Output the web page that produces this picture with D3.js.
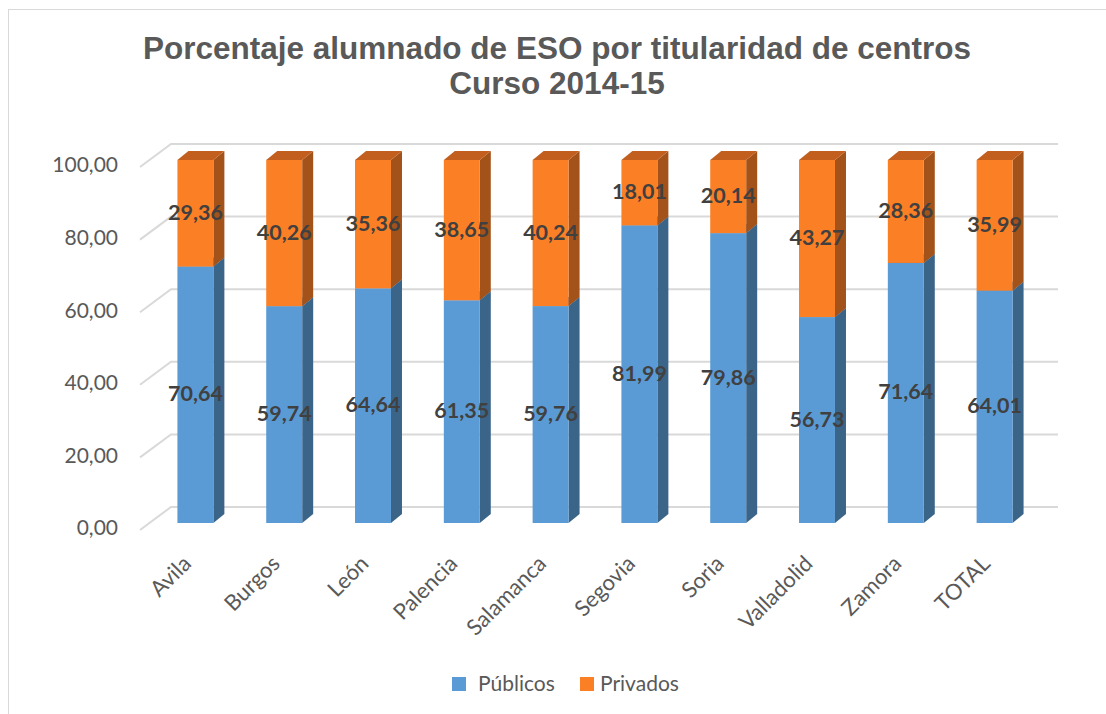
<!DOCTYPE html>
<html>
<head>
<meta charset="utf-8">
<script src="https://cdn.jsdelivr.net/npm/d3@7"></script>
<style>
    body { margin: 0; background: #fff; }
    svg { display: block; }
</style>
</head>
<body>
<div id="chart"></div>
<script>
var provincias = ["Avila", "Burgos", "León", "Palencia", "Salamanca", "Segovia", "Soria", "Valladolid", "Zamora", "TOTAL"];
var publicos = [70.64, 59.74, 64.64, 61.35, 59.76, 81.99, 79.86, 56.73, 71.64, 64.01];
var privados = [29.36, 40.26, 35.36, 38.65, 40.24, 18.01, 20.14, 43.27, 28.36, 35.99];
var yTicks = [0, 20, 40, 60, 80, 100];
var titleLines = ["Porcentaje alumnado de ESO por titularidad de centros", "Curso 2014-15"];
var seriesNames = ["Públicos", "Privados"];

var width = 1106, height = 714;
var colors = {
    "Públicos": { front: "#5B9BD5", side: "#3B6588", top: "#4A7DAB" },
    "Privados": { front: "#FB7F25", side: "#A3521A", top: "#C25F1E" }
};
var depthX = 11, depthY = -9;     // bar depth
var wallX = 31, wallY = -23;      // floor depth to back wall

var es = d3.formatLocale({ decimal: ",", thousands: ".", grouping: [3], currency: ["", " €"] });
var fmt = es.format(".2f");

var svg = d3.select("#chart").append("svg")
    .attr("width", width).attr("height", height);

// chart border (right/bottom lie outside the picture)
svg.append("rect")
    .attr("x", 8.5).attr("y", 9.5)
    .attr("width", 1120).attr("height", 730)
    .attr("fill", "none").attr("stroke", "#D9D9D9").attr("stroke-width", 1);

svg.append("g").selectAll("text")
    .data(titleLines)
    .enter().append("text")
    .attr("x", 557)
    .attr("y", function(d, i) { return 59 + i * 35; })
    .attr("text-anchor", "middle")
    .style("font-family", "'Liberation Sans', Arial, sans-serif")
    .style("font-weight", "bold")
    .style("font-size", "31.5px")
    .style("fill", "#595959")
    .text(function(d) { return d; });

var x = d3.scaleBand()
    .domain(provincias)
    .range([151, 1039])
    .paddingInner(0.595)
    .paddingOuter(0.2975);

var y = d3.scaleLinear().domain([0, 100]).range([523, 160]);

// back wall gridlines + side diagonals
var grid = svg.append("g");
yTicks.forEach(function(t) {
    var yf = y(t) + 7;
    grid.append("path")
        .attr("d", "M140," + yf + "L" + (140 + wallX) + "," + (yf + wallY) + "H1058")
        .attr("fill", "none")
        .attr("stroke", "#D9D9D9")
        .attr("stroke-width", 2);
});

svg.append("g").selectAll("text")
    .data(yTicks)
    .enter().append("text")
    .attr("x", 118)
    .attr("y", function(d) { return y(d) + 7; })
    .attr("text-anchor", "end")
    .attr("dominant-baseline", "middle")
    .style("font-family", "Lato, sans-serif")
    .style("font-size", "21px")
    .style("fill", "#595959")
    .text(function(d) { return fmt(d); });

// stacked data
var rows = provincias.map(function(p, i) {
    return { prov: p, "Públicos": publicos[i], "Privados": privados[i] };
});
var stack = d3.stack().keys(seriesNames)(rows);

var bars = svg.append("g");
stack.forEach(function(layer) {
    var c = colors[layer.key];
    var g = bars.append("g");
    layer.forEach(function(d) {
        var x0 = x(d.data.prov), bw = x.bandwidth();
        var yTop = y(d[1]), yBot = y(d[0]);
        // side face
        g.append("path")
            .attr("d", "M" + (x0 + bw) + "," + yBot +
                "L" + (x0 + bw + depthX) + "," + (yBot + depthY) +
                "L" + (x0 + bw + depthX) + "," + (yTop + depthY) +
                "L" + (x0 + bw) + "," + yTop + "Z")
            .attr("fill", c.side);
        // top face
        g.append("path")
            .attr("d", "M" + x0 + "," + yTop +
                "L" + (x0 + depthX) + "," + (yTop + depthY) +
                "L" + (x0 + bw + depthX) + "," + (yTop + depthY) +
                "L" + (x0 + bw) + "," + yTop + "Z")
            .attr("fill", c.top);
        // front face
        g.append("rect")
            .attr("x", x0).attr("y", yTop)
            .attr("width", bw).attr("height", yBot - yTop)
            .attr("fill", c.front);
    });
});

// data labels
var labels = svg.append("g");
stack.forEach(function(layer) {
    labels.selectAll(null)
        .data(layer)
        .enter().append("text")
        .attr("x", function(d) { return x(d.data.prov) + x.bandwidth() / 2; })
        .attr("y", function(d) { return (y(d[0]) + y(d[1])) / 2 + 1; })
        .attr("text-anchor", "middle")
        .attr("dominant-baseline", "middle")
        .style("font-family", "Lato, sans-serif")
        .style("font-weight", "bold")
        .style("font-size", "21.5px")
        .style("fill", "#404040")
        .text(function(d) { return fmt(d.data[layer.key]); });
});

// category labels
svg.append("g").selectAll("text")
    .data(provincias)
    .enter().append("text")
    .attr("transform", function(d) {
        return "translate(" + (x(d) + x.bandwidth() / 2 - 3) + ",565) rotate(-45)";
    })
    .attr("text-anchor", "end")
    .style("font-family", "Lato, sans-serif")
    .style("font-size", "22px")
    .style("fill", "#595959")
    .text(function(d) { return d; });

// legend
var legend = svg.append("g");
var legendX = [452, 580];
seriesNames.forEach(function(name, i) {
    legend.append("rect")
        .attr("x", legendX[i]).attr("y", 677)
        .attr("width", 14).attr("height", 14)
        .attr("fill", colors[name].front);
    legend.append("text")
        .attr("x", legendX[i] + (i == 0 ? 26 : 20))
        .attr("y", 691)
        .style("font-family", "Lato, sans-serif")
        .style("font-size", "21px")
        .style("fill", "#595959")
        .text(name);
});
</script>
</body>
</html>
